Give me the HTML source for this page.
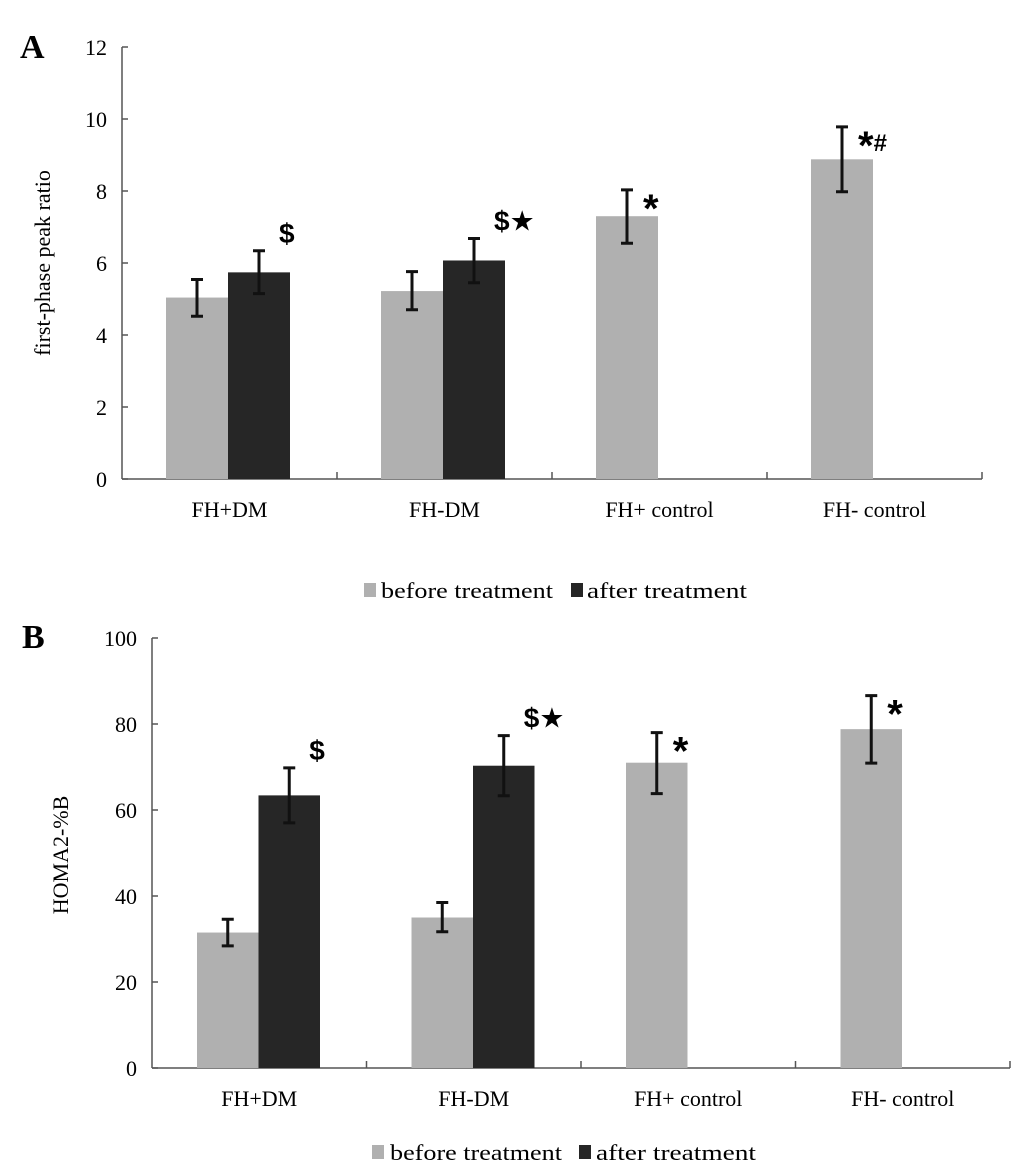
<!DOCTYPE html>
<html><head><meta charset="utf-8"><style>
body{margin:0;background:#fff;}
svg{display:block;font-family:"Liberation Serif",serif;}
</style></head><body>
<svg id="c" width="1033" height="1167" viewBox="0 0 1033 1167" xmlns="http://www.w3.org/2000/svg">
<text x="20" y="58" font-size="34" font-weight="bold">A</text>
<text x="22" y="648" font-size="34" font-weight="bold">B</text>
<text transform="translate(50,263) rotate(-90)" text-anchor="middle" font-size="22">first-phase peak ratio</text>
<text transform="translate(68,855) rotate(-90)" text-anchor="middle" font-size="22">HOMA2-%B</text>
<g>
<rect x="364" y="583" width="12" height="14" fill="#b0b0b0"/>
<text x="381" y="598" font-size="22" textLength="172" lengthAdjust="spacingAndGlyphs">before treatment</text>
<rect x="571" y="583" width="12" height="14" fill="#262626"/>
<text x="587" y="598" font-size="22" textLength="160" lengthAdjust="spacingAndGlyphs">after treatment</text>
</g>
<g>
<rect x="372" y="1145" width="12" height="14" fill="#b0b0b0"/>
<text x="390" y="1160" font-size="22" textLength="172" lengthAdjust="spacingAndGlyphs">before treatment</text>
<rect x="579" y="1145" width="12" height="14" fill="#262626"/>
<text x="596" y="1160" font-size="22" textLength="160" lengthAdjust="spacingAndGlyphs">after treatment</text>
</g>
</svg>
<script>
const categories = ["FH+DM","FH-DM","FH+ control","FH- control"];
const aBefore = [5.04, 5.22, 7.3, 8.88];
const aBeforeLo = [4.52, 4.70, 6.55, 7.98];
const aBeforeHi = [5.54, 5.76, 8.03, 9.78];
const aAfter = [5.74, 6.07, null, null];
const aAfterLo = [5.15, 5.45, null, null];
const aAfterHi = [6.34, 6.68, null, null];
const aTicks = [0,2,4,6,8,10,12];
const aMarks = ["$","$★","*","*#"];
const bBefore = [31.5, 35.0, 71.0, 78.8];
const bBeforeLo = [28.4, 31.7, 63.8, 70.9];
const bBeforeHi = [34.6, 38.5, 78.0, 86.6];
const bAfter = [63.4, 70.3, null, null];
const bAfterLo = [57.0, 63.3, null, null];
const bAfterHi = [69.8, 77.3, null, null];
const bTicks = [0,20,40,60,80,100];
const bMarks = ["$","$★","*","*"];

const svg = document.getElementById('c');
const NS = 'http://www.w3.org/2000/svg';
function mk(tag, attrs, parent){const e=document.createElementNS(NS,tag);for(const k in attrs)e.setAttribute(k,attrs[k]);(parent||svg).appendChild(e);return e;}

function panel(p, cfg){
  const g = mk('g',{});
  
  
  const y = v => cfg.y0 - (v - 0) / cfg.max * (cfg.y0 - cfg.y1);
  const x0 = cfg.x0, step = cfg.step, bw = cfg.bw;
  const ya = mk('line',{x1:x0,y1:cfg.y1,x2:x0,y2:cfg.y0,stroke:'#555','stroke-width':1.5},g);
  
  
  const xa = mk('line',{x1:x0,y1:cfg.y0,x2:x0+step*4,y2:cfg.y0,stroke:'#555','stroke-width':1.5},g);
  
  
  cfg.ticks.forEach(t=>{
    mk('line',{x1:x0,y1:y(t),x2:x0+6,y2:y(t),stroke:'#555','stroke-width':1.5},g);
    const tl = mk('text',{x:x0-15,y:y(t)+8,'text-anchor':'end','font-size':22},g);
    tl.textContent = t;
    
    
  });
  for(let i=1;i<=4;i++) mk('line',{x1:x0+step*i,y1:cfg.y0,x2:x0+step*i,y2:cfg.y0-7,stroke:'#555','stroke-width':1.5},g);
  categories.forEach((c,i)=>{
    const cx = x0 + step*i + step/2;
    const lb = mk('text',{x:cx,y:cfg.y0+38,'text-anchor':'middle','font-size':22},g);
    lb.textContent = c;
    
    
    const bx = x0 + step*i + cfg.off;
    const series = [[cfg.before[i],cfg.bLo[i],cfg.bHi[i],'#b0b0b0',bx,'before'],[cfg.after[i],cfg.aLo[i],cfg.aHi[i],'#262626',bx+bw,'after']];
    let topHi = 0, lastX = bx;
    series.forEach(s=>{
      if(s[0]==null) return;
      const r = mk('rect',{x:s[4],y:y(s[0]),width:bw,height:cfg.y0-y(s[0]),fill:s[3]},g);
      
      
      const ex = s[4]+bw/2;
      const eb = mk('path',{d:`M${ex-6},${y(s[2])}H${ex+6}M${ex},${y(s[2])}V${y(s[1])}M${ex-6},${y(s[1])}H${ex+6}`,stroke:'#111','stroke-width':3,fill:'none'},g);
      
      
      topHi = s[2]; lastX = ex;
    });
    const mark = cfg.marks[i];
    const isStar = mark[0] === '*';
    const m = mk('text',{x:lastX+(isStar?16:20),y:y(topHi)+(isStar?32:-8),'font-size':isStar?40:28,'font-weight':'bold','font-family':'"Liberation Sans","DejaVu Sans",sans-serif'},g);
    if(isStar){
      const t1 = mk('tspan',{},m); t1.textContent='*';
      if(mark.length>1){const t2 = mk('tspan',{'font-size':24,dy:-8},m); t2.textContent=mark.slice(1);}
    } else m.textContent = mark;
    
    
  });
}
panel('panel-a',{x0:122,y0:479,y1:47,max:12,step:215,bw:62,off:44,ticks:aTicks,before:aBefore,bLo:aBeforeLo,bHi:aBeforeHi,after:aAfter,aLo:aAfterLo,aHi:aAfterHi,marks:aMarks});
panel('panel-b',{x0:152,y0:1068,y1:638,max:100,step:214.5,bw:61.5,off:45,ticks:bTicks,before:bBefore,bLo:bBeforeLo,bHi:bBeforeHi,after:bAfter,aLo:bAfterLo,aHi:bAfterHi,marks:bMarks});
</script>
</body></html>
